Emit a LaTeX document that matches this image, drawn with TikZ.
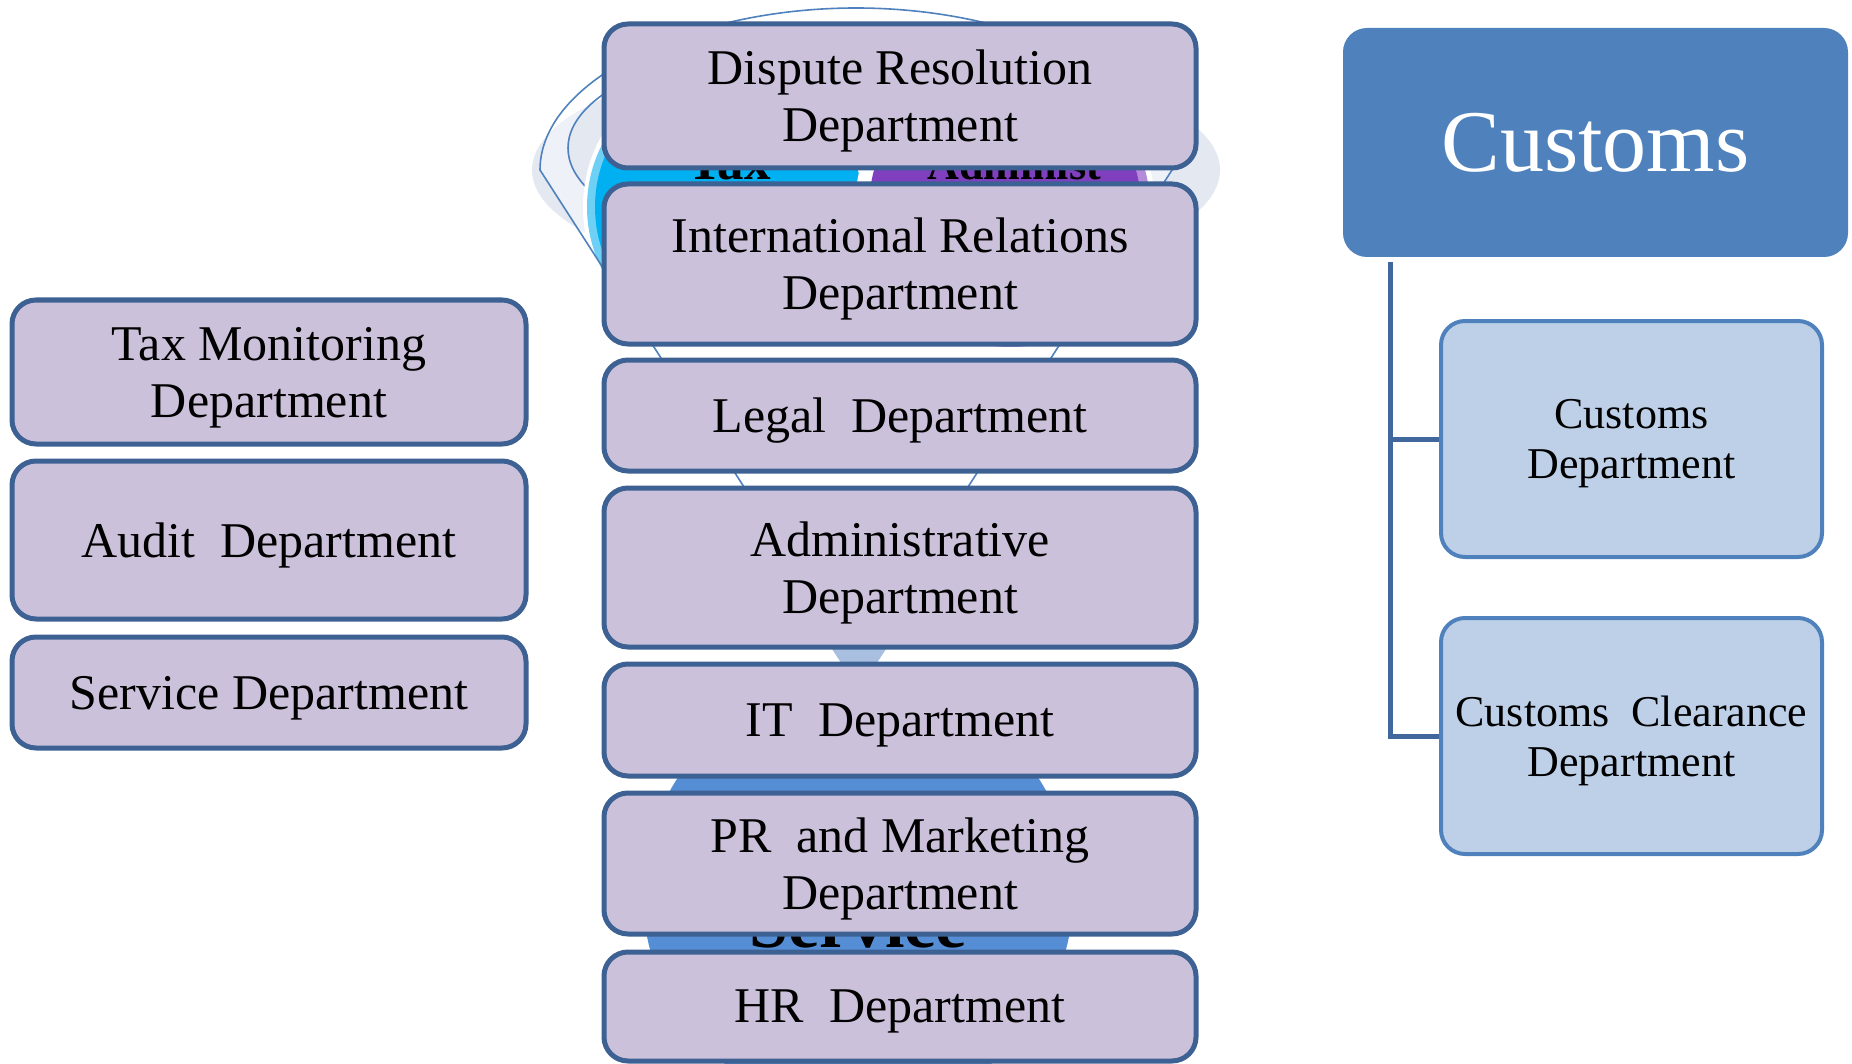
\documentclass[tikz,border=0pt]{standalone}
\usepackage{fontspec}
\setmainfont{Liberation Serif}
\definecolor{deptfill}{HTML}{CCC1DA}
\definecolor{deptline}{HTML}{3E6193}
\definecolor{custfill}{HTML}{BDD0E7}
\definecolor{custline}{HTML}{4F81BD}
\definecolor{hdrfill}{HTML}{4F81BD}
\definecolor{connline}{HTML}{41689C}
\definecolor{funnelgray}{HTML}{E3E8F1}
\definecolor{funnellight}{HTML}{EEF1F7}
\definecolor{funnelline}{HTML}{4F81BD}
\definecolor{taxcyan}{HTML}{00B0F0}
\definecolor{taxlight}{HTML}{6FD0F5}
\definecolor{admpurple}{HTML}{7F3FBF}
\definecolor{admlight}{HTML}{B48AD9}
\definecolor{spoutblue}{HTML}{A9BFDF}
\definecolor{servblue}{HTML}{558ED5}
\begin{document}
\begin{tikzpicture}[x=0.5pt,y=-0.5pt,
  dept/.style={draw=deptline, line width=2.5pt, fill=deptfill, rounded corners=12pt, inner sep=0pt, align=center, text depth=0pt, font=\fontsize{25pt}{28.5pt}\selectfont},
  ctr/.style={dept, minimum width=296pt},
  lft/.style={dept, minimum width=257pt},
  cust/.style={draw=custline, line width=2pt, fill=custfill, rounded corners=12pt, inner sep=0pt, align=center, text depth=0pt, minimum width=190.5pt, minimum height=118pt, font=\fontsize{22pt}{25pt}\selectfont},
  hdr/.style={fill=hdrfill, rounded corners=12pt, inner sep=0pt, minimum width=252.5pt, minimum height=114.5pt, text=white, font=\fontsize{44pt}{50pt}\selectfont},
  conn/.style={draw=connline, line width=2.5pt},
  funnelstroke/.style={draw=funnelline, line width=0.8pt},
  fragtext/.style={inner sep=0pt, text=black}
]
\useasboundingbox (0,0) rectangle (1852,1064);

% ---- background funnel (mostly hidden) ----
\fill[funnelgray] (876,170) ellipse [x radius=172pt, y radius=58.5pt];
\begin{scope}
  \clip (876,170) ellipse [x radius=172pt, y radius=58.5pt];
  \fill[funnellight] (856,661) -- (540,170) .. controls (540,80) and (690,8) .. (856,8) .. controls (1022,8) and (1172,80) .. (1172,170) -- cycle;
  \fill[funnelgray] (856,148) ellipse [x radius=144pt, y radius=56pt];
\end{scope}
\draw[funnelstroke] (856,148) ellipse [x radius=144pt, y radius=56pt];

\fill[white] (729,207) circle [radius=73pt];
\fill[taxlight] (724,207) circle [radius=68.5pt];
\fill[taxcyan] (729,207) circle [radius=67pt];
\node[fragtext, anchor=base, font=\bfseries\fontsize{26.5pt}{30pt}\selectfont] (taxfrag) at (729,180) {Tax};

\fill[white] (1005,207) circle [radius=75pt];
\fill[admlight] (1010,207) circle [radius=70pt];
\fill[admpurple] (1005,207) circle [radius=68pt];
\node[fragtext, anchor=base west, font=\bfseries\fontsize{22pt}{26pt}\selectfont] (admfrag) at (927,180) {Administ};

\draw[funnelstroke] (856,661) -- (540,170) .. controls (540,80) and (690,8) .. (856,8) .. controls (1022,8) and (1172,80) .. (1172,170) -- cycle;
\fill[spoutblue] (826,640) -- (892,640) -- (859,690) -- cycle;

\fill[servblue] (858,895) circle [radius=107.5pt];
\node[fragtext, anchor=base, font=\bfseries\fontsize{35pt}{40pt}\selectfont] (servfrag) at (858,947) {Service};

% ---- centre column ----
\node[ctr, minimum height=72pt] (dispute) at (900,96) {Dispute Resolution\\Department};
\node[ctr, minimum height=80pt] (intl) at (900,264) {International Relations\\Department};
\node[ctr, minimum height=55.5pt] (legal) at (900,415.5) {Legal\ \ Department};
\node[ctr, minimum height=79.5pt] (admin) at (900,567.5) {Administrative\\Department};
\node[ctr, minimum height=56pt] (it) at (900,720) {IT\ \ Department};
\node[ctr, minimum height=70.5pt] (pr) at (900,863.5) {PR\ \ and Marketing\\Department};
\node[ctr, minimum height=54.5pt] (hr) at (900,1006.5) {HR\ \ Department};

% ---- left column ----
\node[lft, minimum height=72pt] (taxmon) at (269,372) {Tax Monitoring\\Department};
\node[lft, minimum height=79pt] (audit) at (269,540) {Audit\ \ Department};
\node[lft, minimum height=55.5pt] (service) at (269,692.5) {Service Department};

% ---- right: customs ----
\node[hdr] (customs) at (1595.5,142.5) {Customs};
\node[cust] (cd) at (1631.5,439) {Customs\\Department};
\node[cust] (ccd) at (1631.5,736) {Customs\ \ Clearance\\Department};
\coordinate (trunk) at ([xshift=24pt,yshift=-2.5pt]customs.south west);
\draw[conn] (trunk) |- (cd.west);
\draw[conn] (trunk) |- (ccd.west);
\end{tikzpicture}
\end{document}
